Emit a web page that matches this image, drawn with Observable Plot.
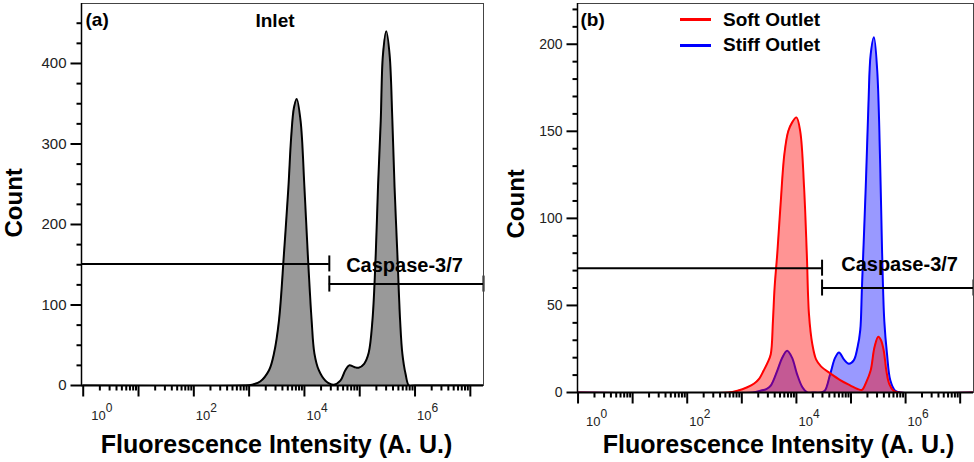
<!DOCTYPE html>
<html>
<head>
<meta charset="utf-8">
<script src="https://cdn.jsdelivr.net/npm/d3@7"></script>
<script src="https://cdn.jsdelivr.net/npm/@observablehq/plot@0.6"></script>
<style>
  body { margin: 0; background: #fff; }
  #wrap { position: relative; width: 974px; height: 462px; display: flex; overflow: hidden; font-family: "Liberation Sans", Arial, sans-serif; }
  #wrap svg { display: block; }
  .leg { position: absolute; font-weight: bold; font-size: 19px; line-height: 19px; color: #000; white-space: nowrap; }
  .sw { position: absolute; height: 3px; width: 31px; }
</style>
</head>
<body>
<div id="wrap">
  <div id="pa"></div>
  <div id="pb"></div>
  <div class="sw" style="left:680px; top:17.5px; background:#ff0000;"></div>
  <div class="leg" style="left:723px; top:10px;">Soft Outlet</div>
  <div class="sw" style="left:680px; top:44px; background:#0000ff;"></div>
  <div class="leg" style="left:723px; top:35px;">Stiff Outlet</div>
</div>
<script>
// ---------- data (log10 of fluorescence intensity, event count) ----------
const inletLogI = [0, 2.9, 3.05, 3.2, 3.36, 3.45, 3.54, 3.63, 3.71, 3.76, 3.81, 3.86, 3.93, 4.0, 4.06, 4.13, 4.18, 4.26, 4.38, 4.53, 4.65, 4.74, 4.81, 4.9, 4.98, 5.08, 5.16, 5.23, 5.29, 5.33, 5.38, 5.42, 5.48, 5.54, 5.59, 5.63, 5.68, 5.73, 5.77, 5.83, 5.89, 6.0, 7.24];
const inletCount = [0, 0, 1, 5, 19, 40, 81, 164, 246, 308, 345, 356, 329, 246, 164, 81, 40, 19, 6, 1, 6, 19, 25, 23, 22, 27, 40, 81, 164, 246, 329, 411, 440, 411, 329, 246, 164, 81, 40, 14, 0, 0, 0];

const softLogI = [0, 2.75, 2.92, 3.1, 3.22, 3.32, 3.40, 3.47, 3.53, 3.57, 3.60, 3.65, 3.71, 3.78, 3.85, 3.92, 4.0, 4.07, 4.14, 4.19, 4.23, 4.29, 4.36, 4.45, 4.62, 4.81, 4.99, 5.12, 5.2, 5.28, 5.36, 5.43, 5.5, 5.55, 5.6, 5.65, 5.7, 5.78, 5.88, 7.25];
const softCount = [0, 0, 1, 3, 5, 8, 12.6, 17, 22, 41, 60, 80, 108, 137, 150, 155, 158, 150, 118, 80, 45, 28, 19, 15, 11, 7, 4, 2, 1.5, 6, 12.6, 26, 32, 30, 24, 12, 5, 1, 0, 0];

const stiffLogI = [0, 3.2, 3.34, 3.45, 3.53, 3.65, 3.74, 3.83, 3.92, 4.01, 4.11, 4.2, 4.3, 4.44, 4.52, 4.62, 4.71, 4.78, 4.87, 4.96, 5.05, 5.12, 5.17, 5.2, 5.27, 5.32, 5.36, 5.42, 5.48, 5.53, 5.57, 5.61, 5.66, 5.72, 5.81, 5.9, 7.25];
const stiffCount = [0, 0, 1, 2, 4, 12.6, 20, 24, 20, 10.7, 3, 0, 0, 0, 1, 10.7, 20, 23, 19, 16.5, 18.4, 26, 36, 60, 118, 166, 194, 204, 185, 137, 80, 41, 22, 7, 1, 0, 0];

// gates: split point (log10 intensity) and the two gate levels (count)
const gateSplitLogA = 4.45;
const gateLevelsA = [151, 126];
const gateSplitLogB = 4.47;
const gateLevelsB = [71.4, 60];

// axis ticks
const xMajorExp = [0, 1, 2, 3, 4, 5, 6, 7];
const xLabelExp = [0, 2, 4, 6];
const yMajorA = [0, 100, 200, 300, 400];
const yMinorA = [25, 50, 75, 125, 150, 175, 225, 250, 275, 325, 350, 375, 425, 450];
const yMajorB = [0, 50, 100, 150, 200];
const yMinorB = [10, 20, 30, 40, 60, 70, 80, 90, 110, 120, 130, 140, 160, 170, 180, 190, 210, 220];

const FONT = '"Liberation Sans", Arial, sans-serif';
const table = (logs, counts) => logs.map((l, i) => ({I: 10 ** l, count: counts[i]}));
const xMajor = xMajorExp.map(e => 10 ** e);
const xMinor = xMajorExp.slice(0, -1).flatMap(e => d3.range(2, 10).map(k => k * 10 ** e));

function panel(cfg) {
  const {width, marginLeft, marginRight, marginBottom, xDomain, yMax, yMajor, yMinor, yFont,
         series, split, levels, caspase, tag, tagDx, title, countDx, countDy, titleDx, labelDy} = cfg;
  const frameH = 462 - 3 - marginBottom;
  const frameW = width - marginLeft - marginRight;
  const pxY = frameH / yMax;                                   // px per count
  const logSpan = Math.log10(xDomain[1]) - Math.log10(xDomain[0]);
  const pxX = frameW / logSpan;                                // px per decade
  const yOut = px => -px / pxY;                                // count value px below baseline
  const xOut = px => xDomain[0] / 10 ** (px / pxX);            // x value px left of frame
  const cap = 8 / pxY;
  const splitX = 10 ** split;
  const gates = [
    {y: levels[0], x1: xDomain[0], x2: splitX},
    {y: levels[1], x1: splitX, x2: xDomain[1]}
  ];
  const caps = [
    {x: splitX, y: levels[0]}, {x: splitX, y: levels[1]}, {x: xDomain[1], y: levels[1]}
  ];
  const yTicks = [
    ...yMajor.map(v => ({v, x1: xOut(11), w: 2})),
    ...yMinor.map(v => ({v, x1: xOut(5), w: 1.5}))
  ];
  const xTicks = [
    ...xMajor.map(v => ({v, y1: yOut(11), w: 2.2})),
    ...xMinor.map(v => ({v, y1: yOut(5), w: 1.5}))
  ];
  const marks = [];
  for (const s of series) {
    marks.push(Plot.areaY(s.data, {x: "I", y: "count", curve: "catmull-rom", fill: s.fill, fillOpacity: s.fillOpacity, clip: true}));
    marks.push(Plot.lineY(s.data, {x: "I", y: "count", curve: "catmull-rom", stroke: s.stroke, strokeWidth: 2, clip: true}));
  }
  marks.push(
    Plot.ruleY(gates, {y: "y", x1: "x1", x2: "x2", stroke: "#000", strokeWidth: 2}),
    Plot.ruleX(caps, {x: "x", y1: d => d.y - cap, y2: d => d.y + cap, stroke: "#000", strokeWidth: 2}),
    Plot.text([caspase.text], {x: 10 ** caspase.logI, y: caspase.count, text: d => d, fontSize: 20, fontWeight: "bold", fill: "#000", lineAnchor: "bottom", fontFamily: FONT}),
    Plot.frame({stroke: "#444", strokeWidth: 1}),
    Plot.ruleY([0], {stroke: "#000", strokeWidth: 2}),
    Plot.ruleX([xDomain[0]], {stroke: "#000", strokeWidth: 1.5}),
    // tick marks
    Plot.link(yTicks, {x1: "x1", x2: () => xDomain[0], y1: "v", y2: "v", stroke: "#000", strokeWidth: 2}),
    Plot.link(xTicks, {x1: "v", x2: "v", y1: "y1", y2: () => 0, stroke: "#000", strokeWidth: 2}),
    // y tick labels
    Plot.axisY(yMajor, {tickSize: 0, tickPadding: 15, fontSize: yFont, label: null, fill: "#222", fontFamily: FONT})
  );
  for (const e of xLabelExp) {
    const shift = e === 0 ? 8 : 2;
    marks.push(
      Plot.text([e], {x: d => 10 ** d, text: () => "10", frameAnchor: "bottom", textAnchor: "start", lineAnchor: "bottom", dx: shift, dy: labelDy, fontSize: 13, fill: "#222", fontFamily: FONT}),
      Plot.text([e], {x: d => 10 ** d, text: d => String(d), frameAnchor: "bottom", textAnchor: "start", lineAnchor: "bottom", dx: shift + 14.5, dy: labelDy - 8, fontSize: 12, fill: "#222", fontFamily: FONT})
    );
  }
  marks.push(
    Plot.text(["Count"], {frameAnchor: "left", text: d => d, rotate: -90, dx: countDx, dy: countDy, fontSize: 24, fontWeight: "bold", fill: "#000", fontFamily: FONT}),
    Plot.text(["Fluorescence Intensity (A. U.)"], {frameAnchor: "bottom", text: d => d, dx: titleDx, dy: 452 - (462 - marginBottom), lineAnchor: "bottom", fontSize: 25, fontWeight: "bold", fill: "#000", fontFamily: FONT}),
    Plot.text([tag], {frameAnchor: "top-left", text: d => d, textAnchor: "start", lineAnchor: "bottom", dx: tagDx, dy: 22, fontSize: 19, fontWeight: "bold", fill: "#000", fontFamily: FONT})
  );
  if (title) {
    marks.push(Plot.text([title], {frameAnchor: "top", text: d => d, lineAnchor: "bottom", dx: -7.5, dy: 23, fontSize: 19, fontWeight: "bold", fill: "#000", fontFamily: FONT}));
  }
  return Plot.plot({
    width, height: 462,
    marginLeft, marginRight, marginTop: 3, marginBottom,
    x: {type: "log", domain: xDomain, axis: null},
    y: {domain: [0, yMax]},
    style: {fontFamily: FONT, background: "#fff", overflow: "visible"},
    marks
  });
}

const pa = panel({
  width: 487, marginLeft: 81, marginRight: 4, marginBottom: 77,
  xDomain: [10 ** -0.031, 10 ** 7.238], yMax: 474.5,
  yMajor: yMajorA, yMinor: yMinorA, yFont: 15,
  series: [{data: table(inletLogI, inletCount), fill: "#999999", fillOpacity: 1, stroke: "#000"}],
  split: gateSplitLogA, levels: gateLevelsA,
  caspase: {text: "Caspase-3/7", logI: 5.81, count: 140.7},
  tag: "(a)", tagDx: 4, title: "Inlet",
  countDx: -67, countDy: 43, titleDx: -6, labelDy: 34
});
document.getElementById("pa").append(pa);

const pb = panel({
  width: 487, marginLeft: 90, marginRight: 1, marginBottom: 70,
  xDomain: [10 ** -0.01, 10 ** 7.244], yMax: 223.4,
  yMajor: yMajorB, yMinor: yMinorB, yFont: 14,
  series: [
    {data: table(stiffLogI, stiffCount), fill: "#0000ff", fillOpacity: 0.4, stroke: "#0000ff"},
    {data: table(softLogI, softCount), fill: "#ff0000", fillOpacity: 0.42, stroke: "#ff0000"}
  ],
  split: gateSplitLogB, levels: gateLevelsB,
  caspase: {text: "Caspase-3/7", logI: 5.89, count: 70},
  tag: "(b)", tagDx: 3, title: null,
  countDx: -61, countDy: 40.5, titleDx: 3, labelDy: 33
});
document.getElementById("pb").append(pb);
</script>
</body>
</html>
